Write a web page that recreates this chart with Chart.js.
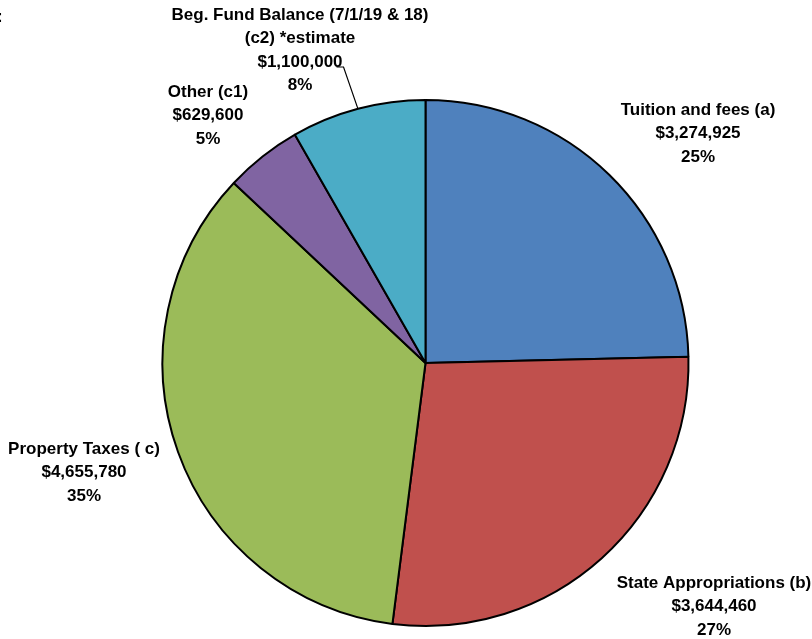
<!DOCTYPE html>
<html>
<head>
<meta charset="utf-8">
<script src="https://cdn.jsdelivr.net/npm/chart.js@4/dist/chart.umd.min.js"></script>
<style>
  html, body { margin: 0; padding: 0; background: #fff; }
  #wrap { width: 812px; height: 639px; }
</style>
</head>
<body>
<div id="wrap"><canvas id="c" width="812" height="639"></canvas></div>
<script>
// Revenue sources
const categories = [
  'Tuition and fees (a)',
  'State Appropriations (b)',
  'Property Taxes ( c)',
  'Other (c1)',
  'Beg. Fund Balance (7/1/19 & 18)|(c2) *estimate'
];
const amounts = [3274925, 3644460, 4655780, 629600, 1100000];
const amountLabels = ['$3,274,925', '$3,644,460', '$4,655,780', '$629,600', '$1,100,000'];
const percentLabels = ['25%', '27%', '35%', '5%', '8%'];
const colors = ['#4F81BD', '#C0504D', '#9BBB59', '#8064A2', '#4BACC6'];

// Label block centres (x, y of first line)
const labelAnchors = [
  [698, 110],
  [714, 583],
  [84, 449],
  [208, 92],
  [300, 15]
];
const LINE_H = 23.5;
const FONT = 'bold 17px "Liberation Sans", Arial, sans-serif';

const labelPlugin = {
  id: 'sliceLabels',
  afterDatasetsDraw(chart) {
    const ctx = chart.ctx;
    const meta = chart.getDatasetMeta(0);
    ctx.save();
    ctx.font = FONT;
    ctx.fillStyle = '#000';
    ctx.textAlign = 'center';
    ctx.textBaseline = 'middle';
    meta.data.forEach((arc, i) => {
      const lines = categories[i].split('|').concat([amountLabels[i], percentLabels[i]]);
      const [x, y] = labelAnchors[i];
      lines.forEach((t, k) => ctx.fillText(t, x, y + k * LINE_H));
    });

    // leader line for the fund balance slice
    const arc = meta.data[4];
    const p = arc.getProps(['x', 'y', 'startAngle', 'endAngle', 'outerRadius'], true);
    const mid = (p.startAngle + p.endAngle) / 2;
    const ex = p.x + Math.cos(mid) * p.outerRadius;
    const ey = p.y + Math.sin(mid) * p.outerRadius;
    const [lx, ly] = labelAnchors[4];
    const textW = ctx.measureText(amountLabels[4]).width;
    const sy = ly + 2 * LINE_H + 5;
    const sx = lx + textW / 2 - 6;
    ctx.beginPath();
    ctx.strokeStyle = '#000';
    ctx.lineWidth = 1.2;
    ctx.moveTo(sx, sy);
    ctx.lineTo(sx + 7, sy);
    ctx.lineTo(ex, ey);
    ctx.stroke();

    // clipped title colon at the left edge
    ctx.font = 'bold 17px "Liberation Sans", Arial, sans-serif';
    ctx.textAlign = 'left';
    ctx.fillText(':', -3, 17);
    ctx.restore();
  }
};

new Chart(document.getElementById('c'), {
  type: 'pie',
  data: {
    labels: categories,
    datasets: [{
      data: amounts,
      backgroundColor: colors,
      borderColor: '#000',
      borderWidth: 2
    }]
  },
  options: {
    responsive: false,
    animation: false,
    layout: { padding: { left: 39, right: 0, top: 99, bottom: 12 } },
    plugins: {
      legend: { display: false },
      tooltip: { enabled: false },
      title: { display: false }
    }
  },
  plugins: [labelPlugin]
});
</script>
</body>
</html>
